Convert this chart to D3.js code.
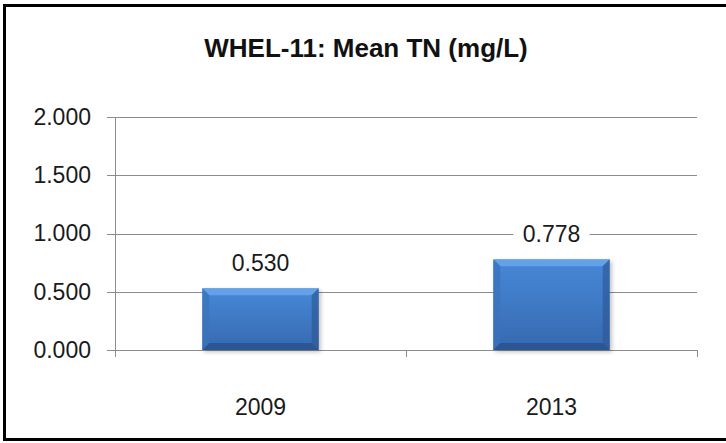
<!DOCTYPE html>
<meta charset="utf-8">
<style>
    body {
        margin: 0;
        background: #fff;
    }

    svg {
        font-family: "Liberation Sans", Arial, sans-serif;
    }

    .axis path,
    .axis line {
        fill: none;
        stroke: #8c8c8c;
        shape-rendering: crispEdges;
    }

    .axis text {
        fill: #1a1a1a;
    }
</style>
<body>
<script src="https://d3js.org/d3.v7.min.js"></script>
<script>
    // values
    const years = ["2009", "2013"];
    const meanTN = [0.530, 0.778];
    const yTicks = [0, 0.5, 1.0, 1.5, 2.0];
    const titleText = "WHEL-11: Mean TN (mg/L)";

    const width = 726;
    const height = 443;
    const margin = {top: 117, right: 29, bottom: 93, left: 115};
    const plotW = width - margin.left - margin.right;
    const plotH = height - margin.top - margin.bottom;

    const data = years.map((y, i) => ({year: y, value: meanTN[i]}));

    const svg = d3.select("body")
        .append("svg")
        .attr("width", width)
        .attr("height", height);

    // bar gradients / bevel
    const defs = svg.append("defs");
    const grad = defs.append("linearGradient")
        .attr("id", "barFill")
        .attr("x1", 0).attr("y1", 0).attr("x2", 0).attr("y2", 1);
    grad.append("stop").attr("offset", "0%").attr("stop-color", "#4788d8");
    grad.append("stop").attr("offset", "100%").attr("stop-color", "#3669b0");

    const shadow = defs.append("filter").attr("id", "shadow")
        .attr("x", "-10%").attr("y", "-10%").attr("width", "130%").attr("height", "130%");
    shadow.append("feGaussianBlur").attr("in", "SourceAlpha").attr("stdDeviation", 2);
    shadow.append("feOffset").attr("dx", 2).attr("dy", 2).attr("result", "b");
    shadow.append("feComponentTransfer").append("feFuncA").attr("type", "linear").attr("slope", 0.25);
    const merge = shadow.append("feMerge");
    merge.append("feMergeNode");
    merge.append("feMergeNode").attr("in", "SourceGraphic");

    // frame
    svg.append("rect")
        .attr("x", 4.5)
        .attr("y", 5.5)
        .attr("width", 740)
        .attr("height", 434)
        .attr("fill", "#fff")
        .attr("stroke", "#000")
        .attr("stroke-width", 3);

    svg.append("text")
        .attr("x", 366)
        .attr("y", 57)
        .attr("text-anchor", "middle")
        .style("font-size", "26px")
        .style("font-weight", "bold")
        .style("fill", "#111")
        .text(titleText);

    const g = svg.append("g")
        .attr("transform", "translate(" + margin.left + "," + margin.top + ")");

    const x = d3.scaleBand()
        .domain(years)
        .range([0, plotW])
        .paddingInner(0.6)
        .paddingOuter(0.3);

    const y = d3.scaleLinear()
        .domain([0, 2])
        .range([plotH, 0]);

    // gridlines
    g.append("g")
        .selectAll("line")
        .data(yTicks.filter(d => d > 0))
        .enter().append("line")
        .attr("x1", 0)
        .attr("x2", plotW)
        .attr("y1", d => Math.round(y(d)) + 0.5)
        .attr("y2", d => Math.round(y(d)) + 0.5)
        .attr("stroke", "#8c8c8c");

    // y axis
    const yAxis = g.append("g")
        .attr("class", "axis")
        .call(d3.axisLeft(y).tickValues(yTicks).tickFormat(d3.format(".3f")).tickSize(8).tickPadding(16));
    yAxis.select(".domain").attr("d", "M0.5,0V" + plotH);
    yAxis.selectAll("text").style("font-size", "23px");

    // x axis: ticks at category boundaries
    const xAxis = g.append("g")
        .attr("class", "axis")
        .attr("transform", "translate(0," + plotH + ")");
    xAxis.append("line")
        .attr("x1", 0).attr("x2", plotW)
        .attr("y1", 0.5).attr("y2", 0.5);
    const step = plotW / years.length;
    xAxis.selectAll(".bt")
        .data(d3.range(years.length + 1))
        .enter().append("line")
        .attr("class", "bt")
        .attr("x1", d => Math.round(d * step) + 0.5)
        .attr("x2", d => Math.round(d * step) + 0.5)
        .attr("y1", 0)
        .attr("y2", 7);
    xAxis.selectAll("text")
        .data(years)
        .enter().append("text")
        .attr("x", d => x(d) + x.bandwidth() / 2)
        .attr("y", 65)
        .attr("text-anchor", "middle")
        .style("font-size", "23px")
        .text(d => d);

    // bars
    const bars = g.selectAll(".bar")
        .data(data)
        .enter().append("g")
        .attr("class", "bar")
        .attr("filter", "url(#shadow)");

    bars.append("rect")
        .attr("x", d => x(d.year))
        .attr("y", d => y(d.value))
        .attr("width", x.bandwidth())
        .attr("height", d => plotH - y(d.value))
        .attr("fill", "url(#barFill)");

    // bevel edges
    const bev = 7;
    bars.append("path")
        .attr("fill", "#6eaaee")
        .attr("opacity", 0.75)
        .attr("d", d => {
            const x0 = x(d.year), x1 = x0 + x.bandwidth(), y0 = y(d.value);
            return "M" + x0 + "," + y0 + "L" + x1 + "," + y0 + "L" + (x1 - bev) + "," + (y0 + bev) + "L" + (x0 + bev) + "," + (y0 + bev) + "Z";
        });
    bars.append("path")
        .attr("fill", "#2b5590")
        .attr("opacity", 0.6)
        .attr("d", d => {
            const x0 = x(d.year), x1 = x0 + x.bandwidth(), y0 = y(d.value), yb = plotH;
            return "M" + x1 + "," + y0 + "L" + x1 + "," + yb + "L" + (x1 - bev) + "," + (yb - bev) + "L" + (x1 - bev) + "," + (y0 + bev) + "Z";
        });
    bars.append("path")
        .attr("fill", "#3a72bb")
        .attr("opacity", 0.7)
        .attr("d", d => {
            const x0 = x(d.year), x1 = x0 + x.bandwidth(), y0 = y(d.value), yb = plotH;
            return "M" + x0 + "," + y0 + "L" + x0 + "," + yb + "L" + (x0 + bev) + "," + (yb - bev) + "L" + (x0 + bev) + "," + (y0 + bev) + "Z";
        });
    bars.append("path")
        .attr("fill", "#264f88")
        .attr("opacity", 0.7)
        .attr("d", d => {
            const x0 = x(d.year), x1 = x0 + x.bandwidth(), yb = plotH;
            return "M" + x0 + "," + yb + "L" + x1 + "," + yb + "L" + (x1 - bev) + "," + (yb - bev) + "L" + (x0 + bev) + "," + (yb - bev) + "Z";
        });

    // value labels with white backing
    const labels = g.selectAll(".lbl")
        .data(data)
        .enter().append("g")
        .attr("class", "lbl")
        .attr("transform", d => "translate(" + (x(d.year) + x.bandwidth() / 2) + "," + (y(d.value) - 25) + ")");
    labels.append("rect")
        .attr("x", -38).attr("y", -15)
        .attr("width", 76).attr("height", 30)
        .attr("fill", "#fff");
    labels.append("text")
        .attr("text-anchor", "middle")
        .attr("dy", "0.35em")
        .style("font-size", "23px")
        .style("fill", "#1a1a1a")
        .text(d => d3.format(".3f")(d.value));
</script>
</body>
</html>
